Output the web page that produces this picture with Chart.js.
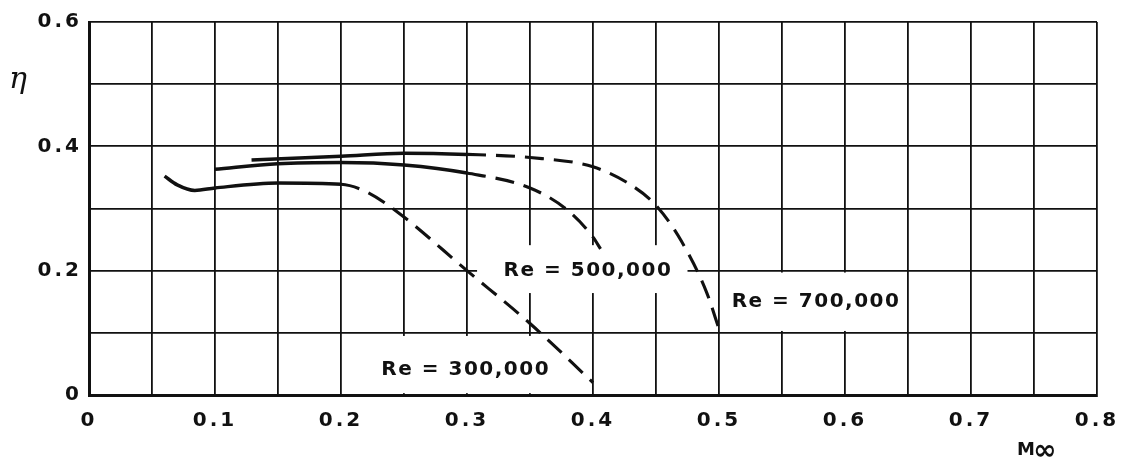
<!DOCTYPE html>
<html>
<head>
<meta charset="utf-8">
<script src="https://cdn.jsdelivr.net/npm/chart.js@4"></script>
<style>
  body { margin: 0; background: #fff; }
  #wrap { width: 1121px; height: 466px; }
</style>
</head>
<body>
<div id="wrap"><canvas id="chart"></canvas></div>
<script>
// 곡선 데이터 (M∞, η)
const re300M   = [0.060, 0.070, 0.084, 0.100, 0.150, 0.200, 0.220, 0.245, 0.300, 0.350, 0.400];
const re300Eta = [0.352, 0.338, 0.329, 0.333, 0.341, 0.339, 0.327, 0.294, 0.200, 0.115, 0.020];

const re500M   = [0.100, 0.150, 0.200, 0.250, 0.300, 0.350, 0.380, 0.400, 0.406];
const re500Eta = [0.363, 0.372, 0.374, 0.370, 0.357, 0.333, 0.297, 0.254, 0.235];

const re700M   = [0.129, 0.200, 0.250, 0.300, 0.350, 0.400, 0.430, 0.450, 0.470, 0.490, 0.501];
const re700Eta = [0.378, 0.384, 0.389, 0.387, 0.382, 0.367, 0.338, 0.305, 0.248, 0.166, 0.100];

// 실선이 끝나고 점선이 시작되는 M 값
const solidEnds = [0.2, 0.3, 0.3];

// 눈금 라벨
const xTickLabels = ['0', '0.1', '0.2', '0.3', '0.4', '0.5', '0.6', '0.7', '0.8'];
const yTickLabels = ['0', '', '0.2', '', '0.4', '', '0.6'];

// 곡선 라벨 (텍스트, 상자 범위는 데이터 단위)
const curveLabels = ['Re = 300,000', 'Re = 500,000', 'Re = 700,000'];
const labelBoxes = [
    { x0: 0.203, x1: 0.396, y0: 0.003, y1: 0.095, cx: 0.299, cy: 0.040 },
    { x0: 0.308, x1: 0.475, y0: 0.164, y1: 0.241, cx: 0.396, cy: 0.200 },
    { x0: 0.502, x1: 0.648, y0: 0.103, y1: 0.197, cx: 0.577, cy: 0.150 }
];

const INK = '#111';
const FONT = "'DejaVu Sans', sans-serif";

function toPoints(xs, ys) {
    return xs.map((x, i) => ({ x, y: ys[i] }));
}

function makeDataset(xs, ys, solidEnd) {
    const dashed = ctx => ctx.p0.parsed.x >= solidEnd - 1e-9;
    return {
        data: toPoints(xs, ys),
        borderColor: INK,
        borderWidth: 3.5,
        pointRadius: 0,
        fill: false,
        cubicInterpolationMode: 'monotone',
        segment: {
            borderDash: ctx => (dashed(ctx) ? [19, 10] : undefined),
            borderWidth: ctx => (dashed(ctx) ? 3.1 : 3.5)
        }
    };
}

// 라벨 상자와 축 제목 그리기
const labelPlugin = {
    id: 'labels',
    beforeDraw(chart) {
        chart.ctx.letterSpacing = '3px';
    },
    beforeDatasetsDraw(chart) {
        const { ctx, scales: { x, y } } = chart;
        ctx.save();
        labelBoxes.forEach((b, i) => {
            const left = x.getPixelForValue(b.x0);
            const right = x.getPixelForValue(b.x1);
            const top = y.getPixelForValue(b.y1);
            const bottom = y.getPixelForValue(b.y0);
            ctx.fillStyle = '#fff';
            ctx.fillRect(left, top, right - left, bottom - top);
            ctx.fillStyle = INK;
            ctx.font = `bold 20px ${FONT}`;
            ctx.letterSpacing = '1.5px';
            ctx.textAlign = 'center';
            ctx.textBaseline = 'middle';
            ctx.fillText(curveLabels[i], x.getPixelForValue(b.cx), y.getPixelForValue(b.cy));
        });
        ctx.restore();
    },
    afterDraw(chart) {
        const { ctx, chartArea } = chart;
        ctx.save();
        ctx.letterSpacing = '0px';
        ctx.fillStyle = INK;
        ctx.textBaseline = 'middle';
        ctx.textAlign = 'center';
        ctx.font = `italic 30px 'DejaVu Serif', serif`;
        ctx.fillText('η', chartArea.left - 71, chartArea.top + 58);
        ctx.font = `bold 18px ${FONT}`;
        ctx.textAlign = 'left';
        ctx.fillText('M', chartArea.right - 80, chartArea.bottom + 55);
        ctx.font = `bold 28px ${FONT}`;
        ctx.fillText('∞', chartArea.right - 64, chartArea.bottom + 57);
        ctx.restore();
    }
};

new Chart(document.getElementById('chart'), {
    type: 'line',
    data: {
        datasets: [
            makeDataset(re300M, re300Eta, solidEnds[0]),
            makeDataset(re500M, re500Eta, solidEnds[1]),
            makeDataset(re700M, re700Eta, solidEnds[2])
        ]
    },
    options: {
        responsive: true,
        maintainAspectRatio: false,
        animation: false,
        layout: { padding: { left: 0, right: 24, top: 22, bottom: 0 } },
        plugins: {
            legend: { display: false },
            tooltip: { enabled: false }
        },
        scales: {
            x: {
                type: 'linear',
                min: 0,
                max: 0.8,
                afterFit: scale => {
                    scale.height = 71;
                    scale.paddingLeft = 0;
                    scale.paddingRight = 0;
                },
                ticks: {
                    stepSize: 0.05,
                    autoSkip: false,
                    maxRotation: 0,
                    padding: 14,
                    color: INK,
                    font: { family: FONT, size: 20, weight: 'bold' },
                    callback: (v, i) => (i % 2 ? '' : xTickLabels[i / 2])
                },
                grid: { color: INK, lineWidth: 1.8, drawTicks: false },
                border: { color: INK, width: 3 }
            },
            y: {
                min: 0,
                max: 0.6,
                afterFit: scale => {
                    scale.width = 89;
                    scale.paddingTop = 0;
                    scale.paddingBottom = 0;
                },
                ticks: {
                    stepSize: 0.1,
                    padding: 7,
                    color: INK,
                    font: { family: FONT, size: 20, weight: 'bold' },
                    callback: (v, i) => yTickLabels[i]
                },
                grid: { color: INK, lineWidth: 1.8, drawTicks: false },
                border: { color: INK, width: 3 }
            }
        }
    },
    plugins: [labelPlugin]
});
</script>
</body>
</html>
